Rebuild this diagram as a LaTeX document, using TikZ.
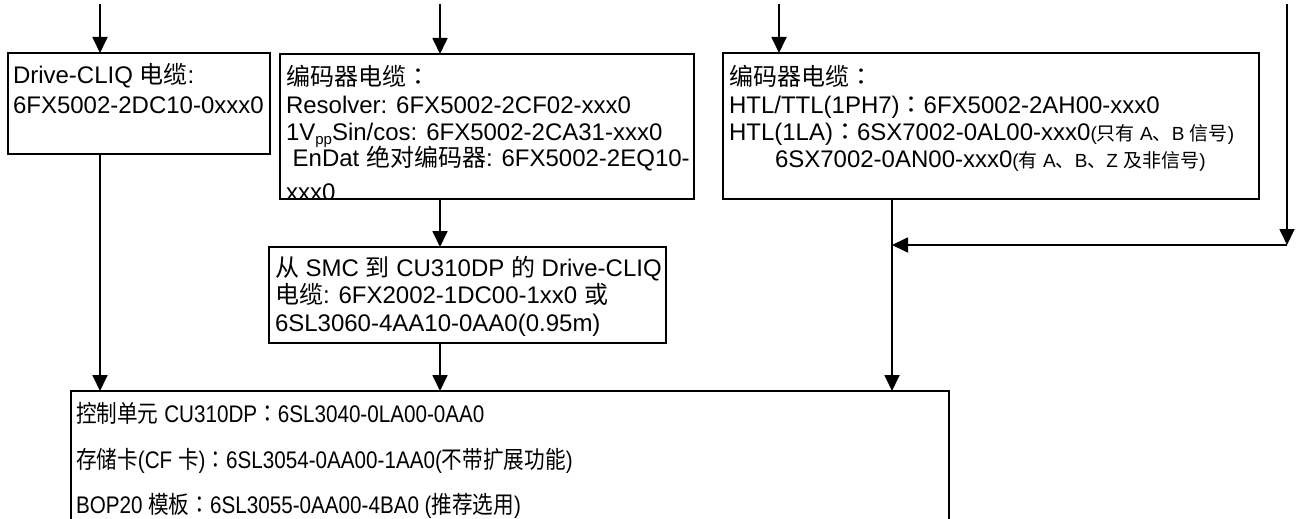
\documentclass[tikz,border=0pt]{standalone}
\usepackage{fontspec}
\setmainfont{Liberation Sans}
\newfontfamily\cjk{Noto Sans CJK SC}
\newfontfamily\cjkpunct{Noto Sans CJK TC}
\newcommand{\zhtxt}[1]{{\cjk #1}}
\newcommand{\zhcolon}{{\cjkpunct ：}}
\newcommand{\smalltxt}[1]{{\fontsize{19}{24}\selectfont #1}}
\newcommand{\narrow}[1]{\scalebox{0.86}[1]{#1}}
\usetikzlibrary{arrows.meta}
\tikzset{
  box/.style={draw, line width=1.8pt, anchor=north west, inner sep=0pt, outer sep=0pt},
  ln/.style={anchor=base west, inner sep=0pt, outer sep=0pt, font=\fontsize{24}{27}\selectfont},
  arr/.style={line width=1.8pt, -{Triangle[length=16pt,width=15pt]}},
  conn/.style={line width=1.8pt}
}
\begin{document}
\begin{tikzpicture}[x=1pt,y=-1pt]
\useasboundingbox (0,0) rectangle (1301,519);
\clip (0,0) rectangle (1301,519);

% boxes
\node[box, minimum width=262pt, minimum height=101pt] (b1) at (8,53) {};
\node[box, minimum width=414pt, minimum height=145pt] (b2) at (280,54) {};
\node[box, minimum width=536pt, minimum height=146pt] (b3) at (723,53) {};
\node[box, minimum width=397pt, minimum height=96pt] (b4) at (269,247) {};
\node[box, minimum width=878pt, minimum height=140pt] (b5) at (71,391) {};

% box 1 text
\node[ln] (t1a) at (13,83) {Drive-CLIQ \zhtxt{电缆}:};
\node[ln] (t1b) at (13,113) {6FX5002-2DC10-0xxx0};

% box 2 text
\begin{scope}
\clip ([xshift=1pt,yshift=-1pt]b2.north west) rectangle ([xshift=-1pt,yshift=1pt]b2.south east);
\node[ln] (t2a) at (286,85) {\zhtxt{编码器电缆}\zhcolon};
\node[ln] (t2b) at (286,113) {Resolver: 6FX5002-2CF02-xxx0};
\node[ln] (t2c) at (286,140) {1V\raisebox{-0.2em}{\fontsize{15}{15}\selectfont pp}Sin/cos: 6FX5002-2CA31-xxx0};
\node[ln] (t2d) at (286,166) {\ EnDat \zhtxt{绝对编码器}: 6FX5002-2EQ10-};
\node[ln] (t2e) at (286,200) {xxx0};
\end{scope}

% box 3 text
\node[ln] (t3a) at (729,85) {\zhtxt{编码器电缆}\zhcolon};
\node[ln] (t3b) at (729,113) {HTL/TTL(1PH7)\zhcolon 6FX5002-2AH00-xxx0};
\node[ln] (t3c) at (729,140) {HTL(1LA)\zhcolon 6SX7002-0AL00-xxx0\smalltxt{(\zhtxt{只有} A\zhtxt{、}B \zhtxt{信号})}};
\node[ln] (t3d) at (775,167) {6SX7002-0AN00-xxx0\smalltxt{(\zhtxt{有} A\zhtxt{、}B\zhtxt{、}Z \zhtxt{及非信号})}};

% box 4 text
\node[ln] (t4a) at (275,276) {\zhtxt{从} SMC \zhtxt{到} CU310DP \zhtxt{的} Drive-CLIQ};
\node[ln] (t4b) at (275,303) {\zhtxt{电缆}: 6FX2002-1DC00-1xx0 \zhtxt{或}};
\node[ln] (t4c) at (275,331) {6SL3060-4AA10-0AA0(0.95m)};

% box 5 text
\node[ln] (t5a) at (76,422) {\narrow{\zhtxt{控制单元} CU310DP\zhcolon 6SL3040-0LA00-0AA0}};
\node[ln] (t5b) at (76,468) {\narrow{\zhtxt{存储卡}(CF \zhtxt{卡})\zhcolon 6SL3054-0AA00-1AA0(\zhtxt{不带扩展功能})}};
\node[ln] (t5c) at (76,513) {\narrow{BOP20 \zhtxt{模板}\zhcolon 6SL3055-0AA00-4BA0 (\zhtxt{推荐选用})}};

% connectors
\coordinate (s1) at (100,4);
\coordinate (s2) at (440,4);
\coordinate (s3) at (779,4);
\coordinate (s4) at (1287,4);
\coordinate (c4) at (1287,245);
\coordinate (m3) at (892,0);

\draw[arr] (s1) -- (s1 |- b1.north);
\draw[arr] (s2) -- (s2 |- b2.north);
\draw[arr] (s3) -- (s3 |- b3.north);
\draw[arr] (s4) -- (c4);
\draw[arr] (c4) -- (m3 |- c4);

\draw[arr] (s1 |- b1.south) -- (s1 |- b5.north);
\draw[arr] (s2 |- b2.south) -- (s2 |- b4.north);
\draw[arr] (s2 |- b4.south) -- (s2 |- b5.north);
\draw[arr] (m3 |- b3.south) -- (m3 |- b5.north);
\end{tikzpicture}
\end{document}
